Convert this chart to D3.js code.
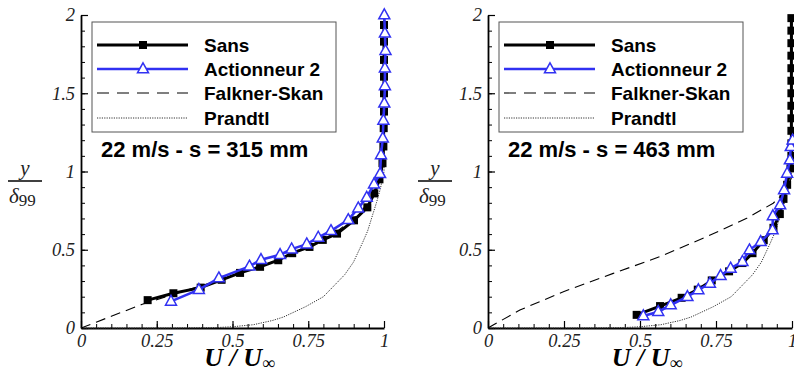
<!DOCTYPE html>
<html><head><meta charset="utf-8">
<script src="https://cdn.jsdelivr.net/npm/d3@7"></script>
<style>
body{margin:0;background:#fff;}
svg{display:block;}
.tick text{font-family:"Liberation Serif","Times New Roman",serif;font-style:italic;font-size:18.5px;fill:#222;}
</style></head>
<body><svg id="chart" width="794" height="374"></svg>
<script>
// ---------- data (U/Uinf, y/delta99) ----------
const xTickValues = [0, 0.25, 0.5, 0.75, 1];
const xTickLabels = ["0", "0.25", "0.5", "0.75", "1"];
const yTickValues = [0, 0.5, 1, 1.5, 2];
const yTickLabels = ["0", "0.5", "1", "1.5", "2"];
const legendLabels = ["Sans", "Actionneur 2", "Falkner-Skan", "Prandtl"];
const panelTitles = ["22 m/s - s = 315 mm", "22 m/s - s = 463 mm"];

const sans315 = [[0.220,0.178],[0.305,0.222],[0.395,0.258],[0.464,0.308],[0.525,0.352],[0.591,0.391],[0.651,0.433],[0.697,0.478],[0.754,0.518],[0.798,0.563],[0.845,0.603],[0.901,0.688],[0.945,0.771],[0.968,0.860],[0.985,0.950],[0.995,1.053],[0.998,1.160],[0.999,1.277],[1.000,1.383],[1.000,1.500],[1.000,1.606],[1.000,1.713],[1.000,1.830],[1.000,1.936]];
const act315 = [[0.297,0.170],[0.389,0.245],[0.455,0.319],[0.556,0.394],[0.594,0.436],[0.657,0.468],[0.695,0.504],[0.745,0.536],[0.783,0.579],[0.825,0.621],[0.882,0.691],[0.915,0.766],[0.943,0.834],[0.967,0.919],[0.987,0.985],[0.990,1.106],[0.996,1.213],[0.998,1.326],[1.001,1.436],[1.003,1.547],[1.003,1.660],[1.005,1.772],[1.003,1.883],[1.001,2.000]];
const falkner315 = [[0,0],[0.05,0.037],[0.1,0.075],[0.2,0.150],[0.3,0.212],[0.4,0.272],[0.5,0.335],[0.6,0.400],[0.7,0.474],[0.8,0.566],[0.85,0.625],[0.9,0.700],[0.94,0.780],[0.97,0.870],[0.99,0.970],[1.0,1.080],[1.0,2.0]];

const sans463 = [[0.489,0.084],[0.566,0.140],[0.637,0.193],[0.690,0.245],[0.736,0.304],[0.793,0.362],[0.837,0.415],[0.870,0.478],[0.907,0.561],[0.939,0.640],[0.960,0.728],[0.972,0.825],[0.984,0.915],[0.995,1.020],[0.998,1.100],[0.998,1.180],[0.998,1.260],[0.998,1.340],[0.998,1.420],[0.998,1.500],[0.998,1.580],[0.998,1.660],[0.998,1.740],[0.998,1.820],[0.998,1.900],[0.998,1.980]];
const act463 = [[0.511,0.077],[0.560,0.104],[0.601,0.147],[0.656,0.200],[0.692,0.243],[0.730,0.285],[0.765,0.334],[0.798,0.381],[0.837,0.424],[0.860,0.498],[0.897,0.551],[0.936,0.626],[0.937,0.716],[0.961,0.786],[0.974,0.882],[0.984,0.988],[0.993,1.073],[0.996,1.158],[1.002,1.200]];
const falkner463 = [[0,0],[0.017,0.019],[0.105,0.115],[0.248,0.232],[0.412,0.349],[0.566,0.456],[0.719,0.583],[0.851,0.701],[0.938,0.797],[0.983,0.882],[1.0,0.970],[1.0,2.0]];

const prandtl = [[0,0],[0.3,0.0],[0.45,0.003],[0.5,0.008],[0.569,0.021],[0.632,0.048],[0.668,0.070],[0.741,0.136],[0.800,0.200],[0.833,0.266],[0.870,0.340],[0.899,0.420],[0.928,0.540],[0.946,0.620],[0.962,0.720],[0.975,0.800],[0.988,0.890],[1.0,1.0],[1.0,2.0]];

// ---------- layout ----------
const panels = [
  {x0: 81, x1: 384, sans: sans315, act: act315, fs: falkner315, pr: prandtl, title: panelTitles[0], ylab: 8},
  {x0: 488, x1: 792, sans: sans463, act: act463, fs: falkner463, pr: prandtl, title: panelTitles[1], ylab: 418}
];
const yTop = 15, yBot = 328;
const BLUE = "#3131f2";
const svg = d3.select("#chart");

function triPath(s){ // hollow triangle centred
  const h = s*0.9;
  return `M0,${-h*0.62}L${s/2},${h*0.38}L${-s/2},${h*0.38}Z`;
}

panels.forEach((p, i) => {
  const x = d3.scaleLinear().domain([0,1]).range([p.x0, p.x1]);
  const y = d3.scaleLinear().domain([0,2]).range([yBot, yTop]);
  const g = svg.append("g");
  const clipId = "clip"+i;
  svg.append("clipPath").attr("id", clipId).append("rect")
    .attr("x", p.x0).attr("y", 0).attr("width", p.x1 - p.x0 + 12).attr("height", yBot + 1);

  // axes: minor ticks
  g.append("g").attr("transform", `translate(0,${yBot})`)
    .call(d3.axisBottom(x).tickValues(d3.range(0, 1.0001, 0.05)).tickSize(-4).tickSizeOuter(0).tickFormat(""))
    .call(a => a.select(".domain").remove());
  g.append("g").attr("transform", `translate(${p.x0},0)`)
    .call(d3.axisLeft(y).tickValues(d3.range(0, 2.0001, 0.1)).tickSize(-4).tickSizeOuter(0).tickFormat(""))
    .call(a => a.select(".domain").remove());
  // major ticks + labels
  const xa = g.append("g").attr("transform", `translate(0,${yBot})`)
    .call(d3.axisBottom(x).tickValues(xTickValues).tickSize(-7).tickSizeOuter(0).tickPadding(6)
      .tickFormat((d, k) => xTickLabels[k]));
  const ya = g.append("g").attr("transform", `translate(${p.x0},0)`)
    .call(d3.axisLeft(y).tickValues(yTickValues).tickSize(-7).tickSizeOuter(0).tickPadding(6)
      .tickFormat((d, k) => yTickLabels[k]));
  [xa, ya].forEach(a => {
    a.select(".domain").attr("stroke", "#000").attr("stroke-width", 1.8);
    a.selectAll(".tick line").attr("stroke", "#000").attr("stroke-width", 1.2);
  });
  g.selectAll(".tick line").attr("stroke", "#000");

  const line = d3.line().x(d => x(d[0])).y(d => y(d[1]));
  const plot = g.append("g").attr("clip-path", `url(#${clipId})`);

  plot.append("path").datum(p.pr).attr("d", line).attr("fill", "none")
    .attr("stroke", "#333").attr("stroke-width", 1).attr("stroke-dasharray", "1.2,1.2");
  plot.append("path").datum(p.fs).attr("d", line).attr("fill", "none")
    .attr("stroke", "#000").attr("stroke-width", 1.1).attr("stroke-dasharray", "10,6");

  plot.append("path").datum(p.sans).attr("d", line).attr("fill", "none")
    .attr("stroke", "#000").attr("stroke-width", 3);
  plot.selectAll("rect.sq").data(p.sans).join("rect").attr("class", "sq")
    .attr("x", d => x(d[0]) - 4).attr("y", d => y(d[1]) - 4)
    .attr("width", 8).attr("height", 8).attr("fill", "#000");

  plot.append("path").datum(p.act).attr("d", line).attr("fill", "none")
    .attr("stroke", BLUE).attr("stroke-width", 2.6);
  plot.selectAll("path.tri").data(p.act).join("path").attr("class", "tri")
    .attr("transform", d => `translate(${x(d[0])},${y(d[1])})`)
    .attr("d", triPath(11)).attr("fill", "#fff").attr("stroke", BLUE).attr("stroke-width", 1.5);

  // legend
  const lx = p.x0 + 11, ly = 22;
  const lg = g.append("g");
  lg.append("rect").attr("x", lx).attr("y", ly).attr("width", 244).attr("height", 110)
    .attr("fill", "#fff").attr("stroke", "#555").attr("stroke-width", 1);
  const rows = [45, 69, 93, 118];
  const sx0 = lx + 5, sx1 = lx + 96, sm = lx + 51;
  lg.append("line").attr("x1", sx0).attr("x2", sx1).attr("y1", rows[0]).attr("y2", rows[0]).attr("stroke", "#000").attr("stroke-width", 3);
  lg.append("rect").attr("x", sm - 4).attr("y", rows[0] - 4).attr("width", 8).attr("height", 8).attr("fill", "#000");
  lg.append("line").attr("x1", sx0).attr("x2", sx1).attr("y1", rows[1]).attr("y2", rows[1]).attr("stroke", BLUE).attr("stroke-width", 2.6);
  lg.append("path").attr("transform", `translate(${sm},${rows[1]})`).attr("d", triPath(11))
    .attr("fill", "#fff").attr("stroke", BLUE).attr("stroke-width", 1.5);
  lg.append("line").attr("x1", sx0).attr("x2", sx1).attr("y1", rows[2]).attr("y2", rows[2]).attr("stroke", "#000").attr("stroke-width", 1.1).attr("stroke-dasharray", "12,8");
  lg.append("line").attr("x1", sx0).attr("x2", sx1).attr("y1", rows[3]).attr("y2", rows[3]).attr("stroke", "#333").attr("stroke-width", 1).attr("stroke-dasharray", "1.2,1.2");
  legendLabels.forEach((t, k) => {
    lg.append("text").attr("x", lx + 112).attr("y", rows[k]).attr("dy", "0.36em")
      .attr("font-family", "'Liberation Sans', Arial, sans-serif").attr("font-weight", "bold")
      .attr("font-size", 19).attr("fill", "#000").text(t);
  });

  // title
  g.append("text").attr("x", p.x0 + 20).attr("y", 157)
    .attr("font-family", "'Liberation Sans', Arial, sans-serif").attr("font-weight", "bold")
    .attr("font-size", 22).attr("fill", "#000").text(p.title);

  // x label
  const xl = g.append("text").attr("x", (p.x0 + p.x1) / 2 + 7).attr("y", 366).attr("text-anchor", "middle")
    .attr("font-family", "'Liberation Serif','Times New Roman',serif").attr("font-style", "italic")
    .attr("font-weight", "bold").attr("font-size", 26).attr("fill", "#000");
  xl.append("tspan").text("U / U");
  xl.append("tspan").attr("font-size", 18).attr("dy", 3).text("∞");

  // y label (fraction)
  const yl = g.append("g");
  yl.append("text").attr("x", p.ylab + 17).attr("y", 175).attr("text-anchor", "middle")
    .attr("font-family", "'Liberation Serif','Times New Roman',serif").attr("font-style", "italic")
    .attr("font-size", 21).attr("fill", "#222").text("y");
  yl.append("line").attr("x1", p.ylab).attr("x2", p.ylab + 34).attr("y1", 181).attr("y2", 181)
    .attr("stroke", "#000").attr("stroke-width", 1.5);
  const dl = yl.append("text").attr("x", p.ylab + 1).attr("y", 203)
    .attr("font-family", "'Liberation Serif','Times New Roman',serif").attr("font-size", 21).attr("fill", "#222");
  dl.append("tspan").attr("font-style", "italic").text("δ");
  dl.append("tspan").attr("font-size", 17).attr("dy", 3).text("99");
});
</script></body></html>
